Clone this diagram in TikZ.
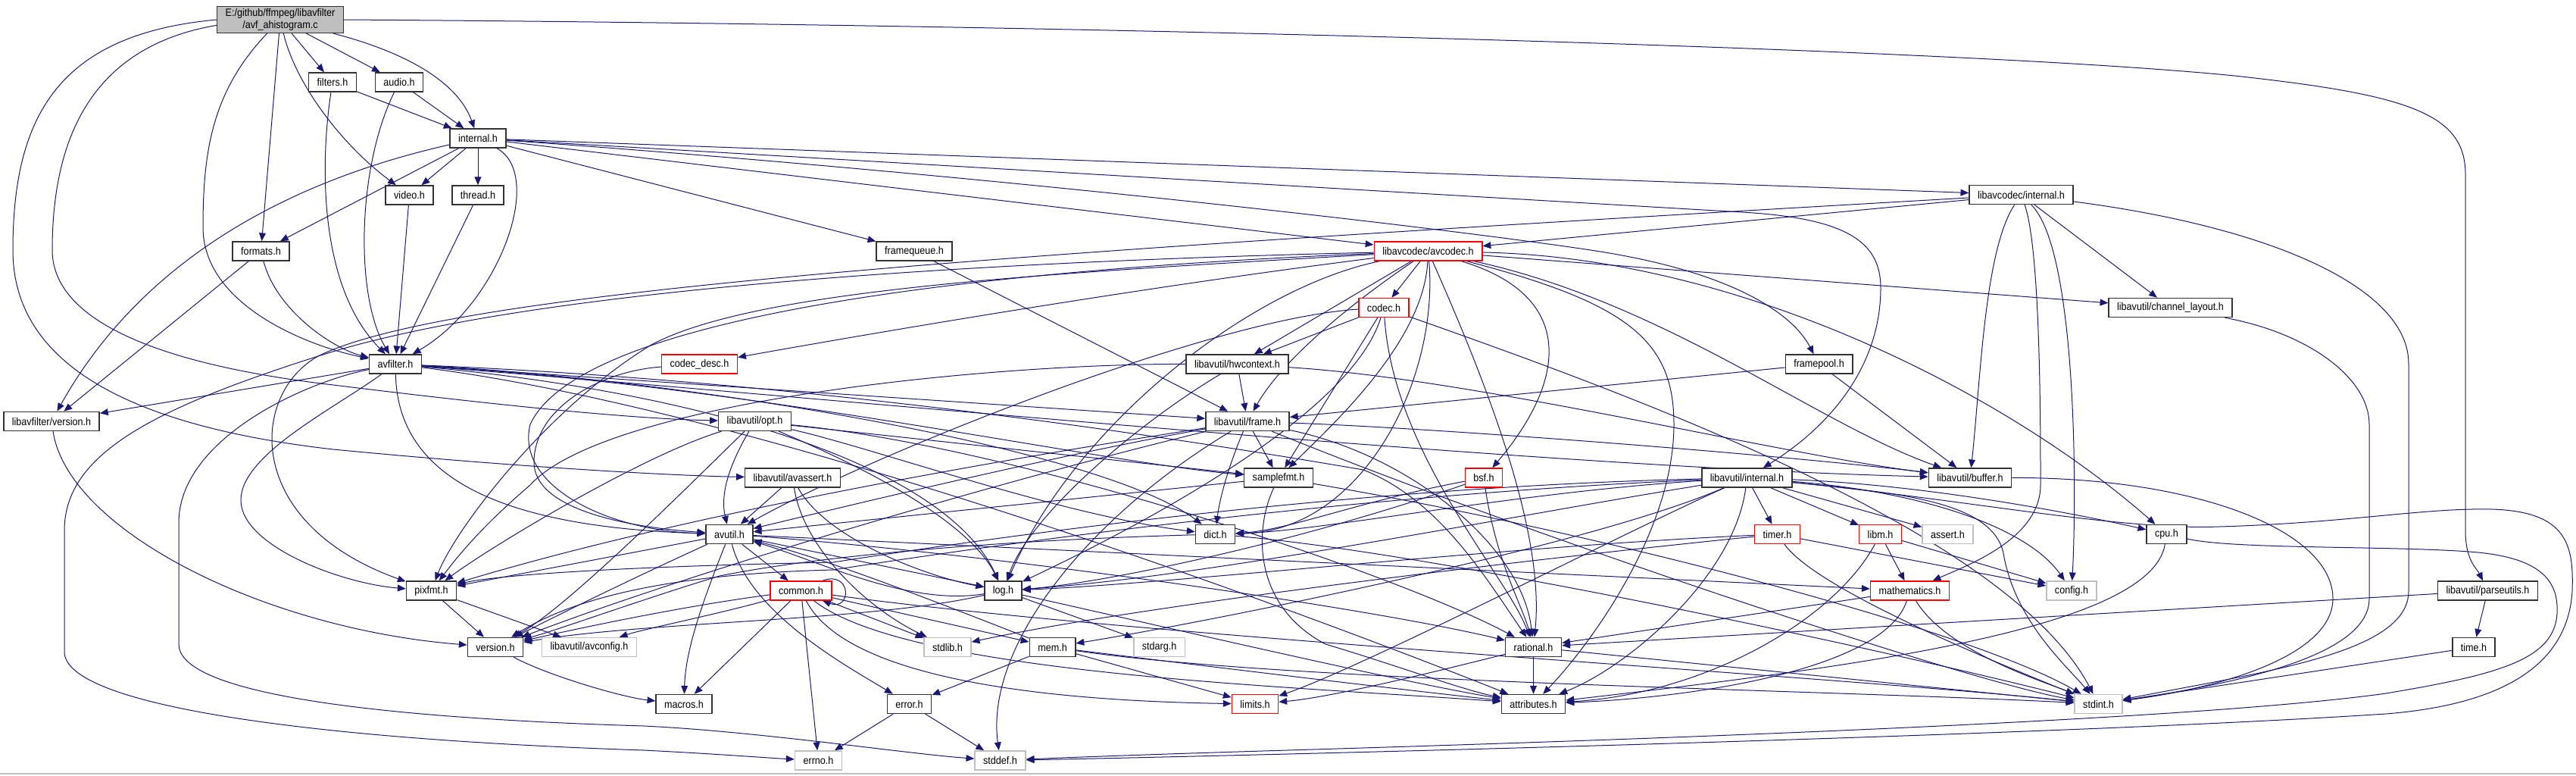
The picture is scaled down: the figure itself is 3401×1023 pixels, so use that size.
\documentclass[tikz,border=0pt]{standalone}
\usepackage{fontspec}
\setmainfont{Liberation Sans}[FakeStretch=0.9]
\usetikzlibrary{arrows.meta,backgrounds}
\definecolor{edgeblue}{HTML}{191970}
\definecolor{boxgray}{HTML}{BFBFBF}

\begin{document}
\begin{tikzpicture}[x=0.5pt,y=-0.5pt,font=\fontsize{7}{7.8}\selectfont,
  hdr/.style={draw=black!80,fill=white,line width=0.75pt,inner xsep=5.5pt,inner ysep=0pt,minimum height=12.5pt},
  redhdr/.style={hdr,draw=red},
  syshdr/.style={hdr,draw=boxgray},
  inc/.style={draw=edgeblue,line width=0.5pt,-{Triangle[length=5.4pt,width=4.4pt]}}]
  \useasboundingbox (0,0) rectangle (3401,1023);
  \draw[boxgray,line width=1pt] (0,1021) -- (3401,1021);

  \node[hdr,fill=boxgray,align=center,inner ysep=1.5pt] (main) at (370,26) {E:/github/ffmpeg/libavfilter\\/avf\_ahistogram.c};
  \node[hdr] (filt) at (439,108.5) {filters.h};
  \node[hdr] (aud) at (527,108.5) {audio.h};
  \node[hdr] (intf) at (631,182.5) {internal.h};
  \node[hdr] (vid) at (540.5,257.5) {video.h};
  \node[hdr] (thr) at (631,257.5) {thread.h};
  \node[hdr] (lci) at (2668.5,257) {libavcodec/internal.h};
  \node[hdr] (fmts) at (344.5,331.5) {formats.h};
  \node[hdr] (fq) at (1207,331.5) {framequeue.h};
  \node[redhdr] (avc) at (1885.5,331.5) {libavcodec/avcodec.h};
  \node[redhdr] (cod) at (1827,406) {codec.h};
  \node[hdr] (chl) at (2865.5,406) {libavutil/channel\_layout.h};
  \node[hdr] (avf) at (522,480.5) {avfilter.h};
  \node[redhdr] (cdesc) at (923.5,480.5) {codec\_desc.h};
  \node[hdr] (hwc) at (1633.5,480.5) {libavutil/hwcontext.h};
  \node[hdr] (fpool) at (2401.5,480.5) {framepool.h};
  \node[hdr] (lfv) at (68,556) {libavfilter/version.h};
  \node[hdr] (opt) at (996.5,556) {libavutil/opt.h};
  \node[hdr] (frm) at (1647,556) {libavutil/frame.h};
  \node[hdr] (avas) at (1046.5,630.5) {libavutil/avassert.h};
  \node[hdr] (sfmt) at (1688,630.5) {samplefmt.h};
  \node[redhdr] (bsf) at (1959,630.5) {bsf.h};
  \node[hdr] (lui) at (2306.5,630.5) {libavutil/internal.h};
  \node[hdr] (buf) at (2601,630.5) {libavutil/buffer.h};
  \node[hdr] (avu) at (963,705) {avutil.h};
  \node[hdr] (dict) at (1604.5,705) {dict.h};
  \node[redhdr] (tim) at (2346.5,705) {timer.h};
  \node[redhdr] (libm) at (2482.5,705) {libm.h};
  \node[syshdr] (asrt) at (2571.5,705) {assert.h};
  \node[hdr] (cpu) at (2860.5,705) {cpu.h};
  \node[hdr] (pix) at (569.5,779.5) {pixfmt.h};
  \node[redhdr] (com) at (1057.5,779.5) {common.h};
  \node[hdr] (log) at (1324.5,779.5) {log.h};
  \node[redhdr] (math) at (2521.5,779.5) {mathematics.h};
  \node[syshdr] (cfg) at (2735,779.5) {config.h};
  \node[hdr] (pu) at (3284.5,779.5) {libavutil/parseutils.h};
  \node[hdr] (ver) at (654,854) {version.h};
  \node[syshdr] (avcfg) at (778,854) {libavutil/avconfig.h};
  \node[syshdr] (stdlib) at (1251,854) {stdlib.h};
  \node[hdr] (mem) at (1389.5,854) {mem.h};
  \node[syshdr] (stdarg) at (1530.5,854) {stdarg.h};
  \node[hdr] (rat) at (2024.5,854) {rational.h};
  \node[hdr] (time) at (3266,854) {time.h};
  \node[hdr] (mac) at (903,929) {macros.h};
  \node[hdr] (err) at (1200.5,929) {error.h};
  \node[redhdr] (lim) at (1657,929) {limits.h};
  \node[hdr] (attr) at (2024.5,929) {attributes.h};
  \node[syshdr] (sint) at (2770.5,929) {stdint.h};
  \node[syshdr] (errno) at (1080.5,1003.5) {errno.h};
  \node[syshdr] (sdef) at (1320.5,1003.5) {stddef.h};

  \begin{scope}[on background layer]
  \draw[inc] (main.west) .. controls (80,45) and (17,150) .. (17,330) .. controls (17,470) and (150,560) .. (440,593) .. controls (700,618) and (900,628) .. (avas);
  \draw[inc] (main.185) .. controls (130,60) and (69,170) .. (69,330) .. controls (69,420) and (200,480) .. (440,508) .. controls (700,540) and (850,553) .. (opt);
  \draw[inc] (main) .. controls (280,120) and (268,200) .. (268,300) .. controls (268,400) and (400,455) .. (avf);
  \draw[inc] (main) -- (fmts);
  \draw[inc] (main) .. controls (390,110) and (450,190) .. (vid);
  \draw[inc] (main) -- (filt);
  \draw[inc] (main) -- (aud);
  \draw[inc] (main) .. controls (540,70) and (605,110) .. (intf);
  \draw[inc] (main.east) .. controls (1500,33) and (2600,65) .. (2950,100) .. controls (3180,125) and (3255,150) .. (3255,230) -- (3255,700) .. controls (3255,740) and (3270,750) .. (pu);

  \draw[inc] (filt) -- (intf);
  \draw[inc] (filt) .. controls (422,220) and (422,380) .. (avf);
  \draw[inc] (aud) -- (intf);
  \draw[inc] (aud) .. controls (472,220) and (468,390) .. (avf);

  \draw[inc] (intf) -- (vid);
  \draw[inc] (intf) -- (thr);
  \draw[inc] (intf) -- (fmts);
  \draw[inc] (intf) .. controls (420,230) and (200,320) .. (lfv);
  \draw[inc] (intf) .. controls (720,230) and (660,400) .. (avf);
  \draw[inc] (intf) -- (fq);
  \draw[inc] (intf) -- (avc);
  \draw[inc] (intf) -- (lci);
  \draw[inc] (intf) .. controls (1300,230) and (1900,300) .. (2100,330) .. controls (2300,360) and (2370,420) .. (fpool);
  \draw[inc] (intf) -- (2300,280) .. controls (2440,288) and (2483,320) .. (2483,380) .. controls (2483,480) and (2420,560) .. (lui);

  \draw[inc] (vid) -- (avf);
  \draw[inc] (thr) -- (avf);
  \draw[inc] (fmts) .. controls (365,410) and (440,460) .. (avf);
  \draw[inc] (fmts) -- (lfv);
  \draw[inc] (fq) -- (frm);
  \draw[inc] (fpool) -- (frm);
  \draw[inc] (fpool) -- (buf);

  \draw[inc] (lci) -- (avc);
  \draw[inc] (lci) .. controls (1400,330) and (600,380) .. (420,470) .. controls (330,520) and (320,690) .. (pix);
  \draw[inc] (lci) .. controls (2620,330) and (2615,500) .. (buf);
  \draw[inc] (lci) .. controls (2694,330) and (2694,560) .. (2694,640) .. controls (2694,710) and (2600,745) .. (math);
  \draw[inc] (lci) .. controls (2742,330) and (2742,650) .. (cfg);
  \draw[inc] (lci) -- (chl);
  \draw[inc] (lci) .. controls (3000,300) and (3180,380) .. (3180,480) -- (3180,780) .. controls (3180,860) and (3000,885) .. (sint);
  \draw[inc] (chl) .. controls (3050,440) and (3128,500) .. (3128,560) -- (3128,790) .. controls (3128,855) and (3000,895) .. (sint);
  \draw[inc] (buf) .. controls (2900,630) and (3080,700) .. (3080,790) .. controls (3080,860) and (2950,905) .. (sint);
  \draw[inc] (pu) -- (time);
  \draw[inc] (pu) -- (rat);
  \draw[inc] (time) -- (sint);

  \draw[inc] (avf) -- (lfv);
  \draw[inc] (avf) .. controls (400,505) and (236,580) .. (236,690) -- (236,850) .. controls (236,905) and (420,945) .. (850,958) .. controls (1000,965) and (1200,995) .. (sdef);
  \draw[inc] (avf) .. controls (440,540) and (318,600) .. (318,660) .. controls (318,720) and (450,770) .. (pix);
  \draw[inc] (avf) .. controls (525,620) and (640,695) .. (avu);
  \draw[inc] (avf) -- (frm);
  \draw[inc] (avf) .. controls (1100,525) and (2000,615) .. (buf);
  \draw[inc] (avf) .. controls (1000,510) and (1450,610) .. (sfmt);
  \draw[inc] (avf) .. controls (900,500) and (1450,590) .. (dict);
  \draw[inc] (avf) .. controls (1000,500) and (1450,560) .. (1800,620) .. controls (1900,660) and (1960,760) .. (rat);
  \draw[inc] (avf) .. controls (950,520) and (1250,620) .. (log);
  \draw[inc] (avf) .. controls (1000,540) and (1700,800) .. (attr);
  \draw[inc] (lfv) .. controls (90,700) and (350,830) .. (ver);

  \draw[inc] (avc) -- (cod);
  \draw[inc] (avc) .. controls (1500,380) and (1150,440) .. (cdesc);
  \draw[inc] (avc) .. controls (2080,390) and (2070,500) .. (bsf);
  \draw[inc] (avc) -- (hwc);
  \draw[inc] (avc) .. controls (1770,410) and (1690,480) .. (frm);
  \draw[inc] (avc) .. controls (1880,450) and (1760,560) .. (sfmt);
  \draw[inc] (avc) .. controls (1900,500) and (1800,700) .. (dict);
  \draw[inc] (avc) .. controls (1650,380) and (1420,560) .. (log);
  \draw[inc] (avc) .. controls (1400,360) and (1000,380) .. (860,455) .. controls (720,540) and (600,700) .. (pix);
  \draw[inc] (avc) .. controls (1960,500) and (2040,700) .. (rat);
  \draw[inc] (avc) .. controls (1200,360) and (760,430) .. (700,560) .. controls (680,640) and (800,700) .. (avu);
  \draw[inc] (avc) .. controls (2150,400) and (2210,450) .. (2210,560) .. controls (2210,700) and (2100,850) .. (attr);
  \draw[inc] (avc) .. controls (2200,400) and (2400,560) .. (buf);
  \draw[inc] (avc) .. controls (2300,340) and (2650,520) .. (cpu);
  \draw[inc] (avc) -- (chl);
  \draw[inc] (avc) .. controls (1300,345) and (700,380) .. (420,470) .. controls (200,540) and (85,600) .. (85,700) -- (85,860) .. controls (85,930) and (400,975) .. (850,990) .. controls (950,995) and (1010,1000) .. (errno);

  \draw[inc] (cod) -- (hwc);
  \draw[inc] (cod) .. controls (1600,420) and (1150,600) .. (avu);
  \draw[inc] (cod) .. controls (1780,560) and (1450,720) .. (log);
  \draw[inc] (cod) .. controls (1840,600) and (1990,760) .. (rat);
  \draw[inc] (cod) -- (sfmt);
  \draw[inc] (cod) .. controls (2150,520) and (2650,700) .. (sint);
  \draw[inc] (cdesc) .. controls (790,490) and (705,540) .. (705,610) .. controls (705,670) and (820,695) .. (avu);

  \draw[inc] (hwc) -- (frm);
  \draw[inc] (hwc) .. controls (1950,500) and (2350,600) .. (buf);
  \draw[inc] (hwc) .. controls (1500,560) and (1360,680) .. (log);
  \draw[inc] (hwc) .. controls (1300,480) and (800,530) .. (700,640) .. controls (630,700) and (600,740) .. (pix);

  \draw[inc] (opt) .. controls (965,610) and (950,650) .. (avu);
  \draw[inc] (opt) .. controls (1150,590) and (1400,680) .. (dict);
  \draw[inc] (opt) .. controls (1150,620) and (1280,690) .. (log);
  \draw[inc] (opt) .. controls (850,600) and (650,720) .. (pix);
  \draw[inc] (opt) .. controls (1350,590) and (1850,760) .. (rat);
  \draw[inc] (opt) -- (sfmt);
  \draw[inc] (opt) .. controls (900,650) and (750,800) .. (ver);

  \draw[inc] (frm) .. controls (1400,600) and (1150,660) .. (avu);
  \draw[inc] (frm) .. controls (1900,565) and (2350,600) .. (buf);
  \draw[inc] (frm) .. controls (1620,620) and (1610,660) .. (dict);
  \draw[inc] (frm) .. controls (1860,600) and (2010,720) .. (rat);
  \draw[inc] (frm) -- (sfmt);
  \draw[inc] (frm) .. controls (1300,610) and (900,680) .. (pix);
  \draw[inc] (frm) .. controls (1300,640) and (900,760) .. (ver);
  \draw[inc] (frm) .. controls (1440,680) and (1300,850) .. (sdef);
  \draw[inc] (frm) .. controls (2000,700) and (2600,900) .. (sint);

  \draw[inc] (avas) -- (avu);
  \draw[inc] (avas) .. controls (1090,710) and (1220,760) .. (log);
  \draw[inc] (avas) .. controls (1060,720) and (1140,800) .. (stdlib);

  \draw[inc] (sfmt) -- (avu);
  \draw[inc] (sfmt) .. controls (1655,700) and (1655,800) .. (1750,850) .. controls (1850,880) and (1930,910) .. (attr);
  \draw[inc] (sfmt) .. controls (2100,700) and (2600,830) .. (sint);

  \draw[inc] (bsf) .. controls (1800,660) and (1700,700) .. (dict);
  \draw[inc] (bsf) .. controls (1700,720) and (1450,770) .. (log);
  \draw[inc] (bsf) .. controls (1975,740) and (2010,800) .. (rat);

  \draw[inc] (lui) -- (tim);
  \draw[inc] (lui) -- (libm);
  \draw[inc] (lui) -- (asrt);
  \draw[inc] (lui) .. controls (2550,650) and (2680,700) .. (cfg);
  \draw[inc] (lui) .. controls (2550,640) and (2750,680) .. (cpu);
  \draw[inc] (lui) .. controls (2500,650) and (2630,660) .. (2645,730) .. controls (2660,820) and (2730,880) .. (sint);
  \draw[inc] (lui) .. controls (2600,660) and (2800,700) .. (2930,695) .. controls (3100,690) and (3200,670) .. (3290,672) .. controls (3390,675) and (3398,720) .. (3396,780) .. controls (3390,880) and (3300,930) .. (3150,942) .. controls (2800,965) and (2100,985) .. (1700,995) .. controls (1500,1000) and (1400,1002) .. (sdef);
  \draw[inc] (lui) .. controls (2290,760) and (2150,880) .. (attr);
  \draw[inc] (lui) .. controls (2150,700) and (1800,880) .. (lim);
  \draw[inc] (lui) .. controls (1900,640) and (1500,680) .. (1100,742) .. controls (800,748) and (650,760) .. (pix);
  \draw[inc] (lui) .. controls (1900,648) and (1500,690) .. (1100,752) .. controls (850,758) and (740,800) .. (ver);
  \draw[inc] (lui) .. controls (2000,650) and (1750,700) .. (dict);
  \draw[inc] (lui) .. controls (2100,720) and (1600,820) .. (mem);
  \draw[inc] (lui) .. controls (2000,680) and (1600,760) .. (log);

  \draw[inc] (avu) -- (com);
  \draw[inc] (avu) .. controls (990,810) and (1120,880) .. (err);
  \draw[inc] (avu) .. controls (1300,730) and (1800,800) .. (rat);
  \draw[inc] (avu) .. controls (820,770) and (720,820) .. (ver);
  \draw[inc] (avu) .. controls (925,800) and (905,860) .. (mac);
  \draw[inc] (avu) -- (math);
  \draw[inc] (avu) -- (log);
  \draw[inc] (avu) -- (pix);

  \draw[inc] (dict) .. controls (1900,730) and (2500,860) .. (sint);
  \draw[inc] (dict) .. controls (1350,712) and (1100,730) .. (950,760) .. controls (850,790) and (740,830) .. (ver);

  \draw[inc] (tim) .. controls (2000,720) and (1550,770) .. (log);
  \draw[inc] (tim) .. controls (2000,740) and (1500,800) .. (stdlib);
  \draw[inc] (tim) -- (cfg);
  \draw[inc] (tim) .. controls (2400,780) and (2650,880) .. (sint);
  \draw[inc] (libm) -- (math);
  \draw[inc] (libm) .. controls (2420,820) and (2250,915) .. (attr);
  \draw[inc] (libm) -- (cfg);
  \draw[inc] (math) -- (rat);
  \draw[inc] (math) .. controls (2490,880) and (2250,920) .. (attr);
  \draw[inc] (math) .. controls (2570,860) and (2700,900) .. (sint);
  \draw[inc] (cpu) .. controls (2840,830) and (2450,880) .. (attr);
  \draw[inc] (cpu) .. controls (2950,725) and (3150,720) .. (3260,728) .. controls (3360,735) and (3378,770) .. (3376,810) .. controls (3372,870) and (3300,890) .. (3150,915) .. controls (2900,950) and (2200,975) .. (1700,990) .. controls (1500,996) and (1400,1000) .. (sdef);

  \draw[inc] (com) -- (errno);
  \draw[inc] (com) -- (mac);
  \draw[inc] (com) .. controls (900,800) and (760,830) .. (ver);
  \draw[inc] (com) .. controls (950,810) and (850,830) .. (avcfg);
  \draw[inc] (com) -- (stdlib);
  \draw[inc] (com) -- (mem);
  \draw[inc] (com) .. controls (1120,900) and (1400,925) .. (lim);
  \draw[inc] (com) .. controls (1200,890) and (1700,905) .. (attr);
  \draw[inc] (com) .. controls (1500,840) and (2400,890) .. (sint);
  \draw[inc] (com.25) to[out=20,in=-20,looseness=4] (com.-25);

  \draw[inc] (log) -- (stdarg);
  \draw[inc] (log) .. controls (1200,800) and (1080,740) .. (avu);
  \draw[inc] (log) .. controls (1550,830) and (1850,900) .. (attr);
  \draw[inc] (log) .. controls (1150,820) and (850,820) .. (ver);
  \draw[inc] (pix) -- (ver);
  \draw[inc] (pix) -- (avcfg);

  \draw[inc] (mem) -- (lim);
  \draw[inc] (mem) .. controls (1700,900) and (2400,910) .. (sint);
  \draw[inc] (mem) .. controls (1600,880) and (1850,910) .. (attr);
  \draw[inc] (mem) -- (err);
  \draw[inc] (mem) .. controls (1250,800) and (1100,740) .. (avu);
  \draw[inc] (err) -- (errno);
  \draw[inc] (err) -- (sdef);
  \draw[inc] (rat) -- (sint);
  \draw[inc] (rat) .. controls (1900,885) and (1760,920) .. (lim);
  \draw[inc] (rat) -- (attr);
  \draw[inc] (ver) .. controls (720,890) and (820,920) .. (mac);
  \end{scope}
\end{tikzpicture}
\end{document}
